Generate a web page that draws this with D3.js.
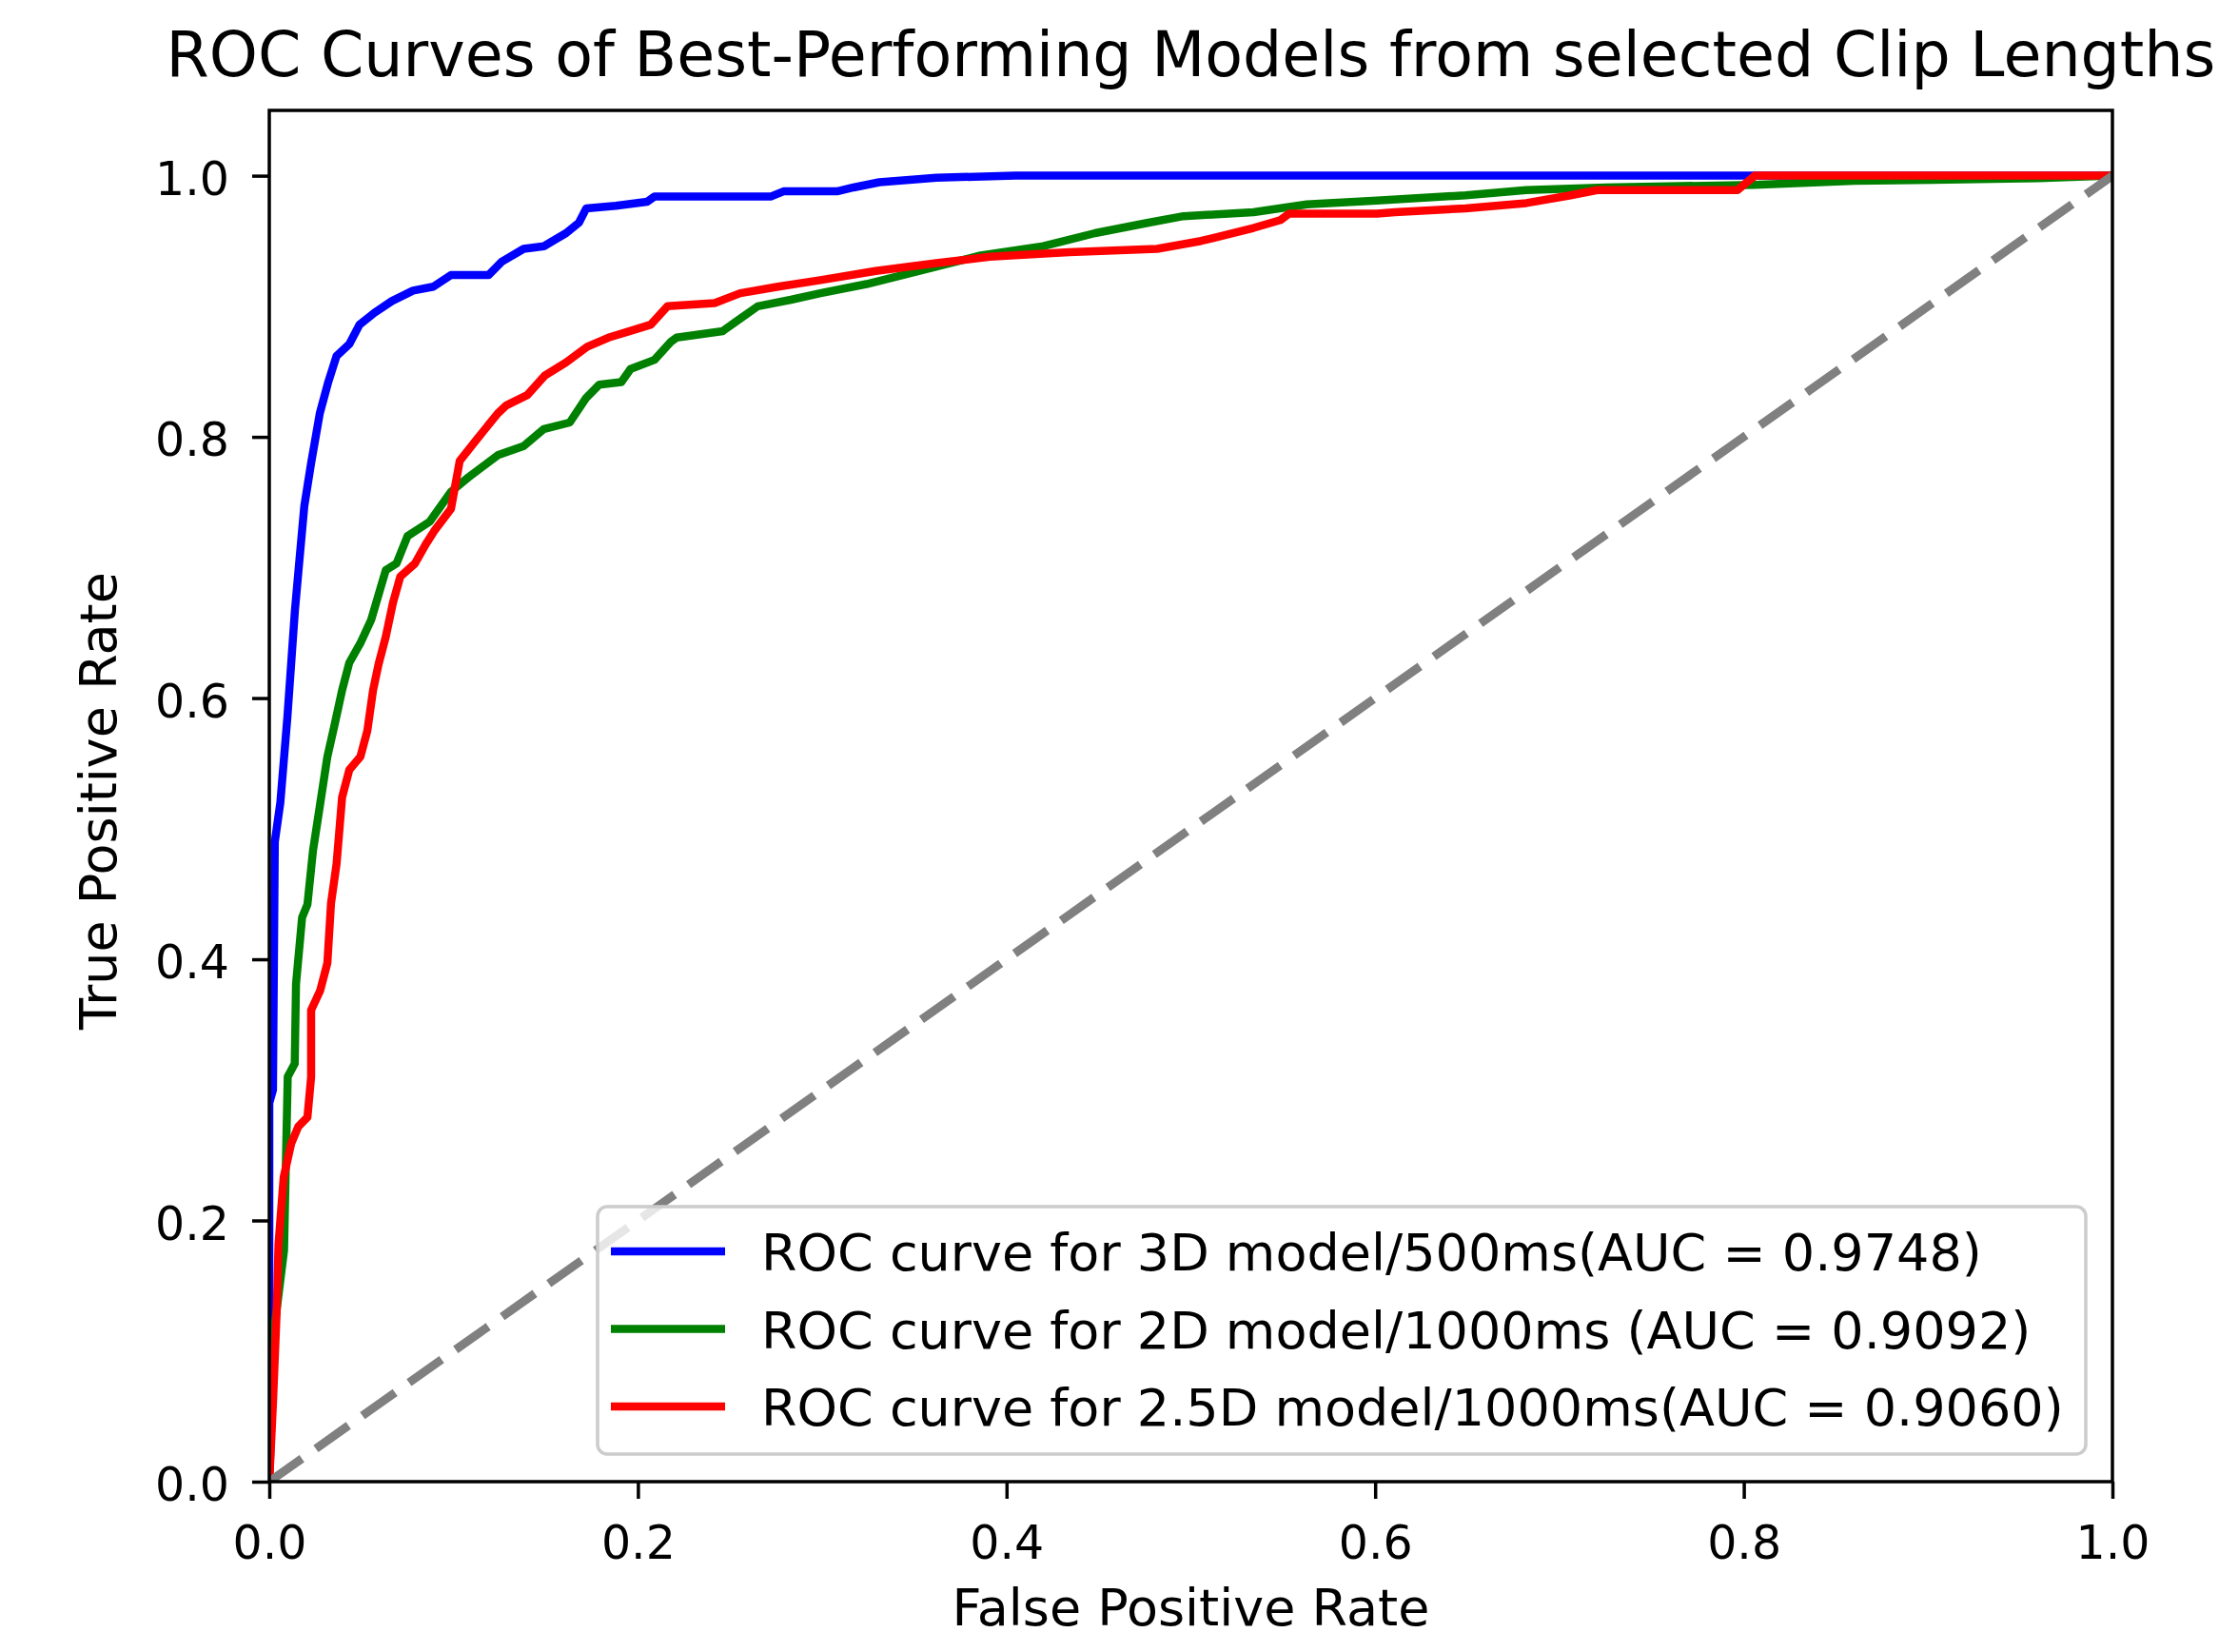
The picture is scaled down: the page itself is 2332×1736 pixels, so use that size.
<!DOCTYPE html>
<html>
  <head>
    <meta charset="utf-8">
    <title>ROC Curves</title>
    <style>
      body { margin: 0; background: #fff; }
      text { font-family: "DejaVu Sans", sans-serif; fill: #000; }
      .tick line { stroke: #000; stroke-width: 3.5px; }
      .curve { fill: none; stroke-width: 8.5px; stroke-linejoin: round; stroke-linecap: square; }
    </style>
  </head>
  <body>
    <div id="chart"></div>
    <script src="https://d3js.org/d3.v7.min.js"></script>
    <script>
      // values
      var fpr3D = [0, 0, 0.002, 0.003, 0.006, 0.0098, 0.0139, 0.0158, 0.019, 0.0227, 0.0274, 0.032, 0.0365,
        0.0434, 0.049, 0.057, 0.0665, 0.078, 0.089, 0.0986, 0.119, 0.126, 0.138, 0.149, 0.161, 0.168, 0.172,
        0.188, 0.205, 0.209, 0.272, 0.279, 0.308, 0.317, 0.331, 0.362, 0.405, 0.806, 1.0];
      var tpr3D = [0, 0.29, 0.30, 0.49, 0.52, 0.585, 0.667, 0.697, 0.747, 0.78, 0.818, 0.842, 0.862,
        0.871, 0.886, 0.895, 0.904, 0.912, 0.915, 0.924, 0.924, 0.934, 0.944, 0.946, 0.956, 0.964, 0.975,
        0.977, 0.980, 0.984, 0.984, 0.988, 0.988, 0.991, 0.995, 0.9985, 1.0, 1.0, 1.0];

      var fpr2D = [0, 0.003, 0.008, 0.01, 0.0138, 0.0145, 0.0178, 0.0207, 0.0237, 0.0276, 0.0315, 0.0355,
        0.0395, 0.0434, 0.0494, 0.0553, 0.0632, 0.069, 0.075, 0.087, 0.0986, 0.108, 0.124, 0.138, 0.149,
        0.163, 0.172, 0.179, 0.191, 0.196, 0.209, 0.218, 0.221, 0.246, 0.253, 0.265, 0.283, 0.299, 0.324,
        0.386, 0.42, 0.448, 0.477, 0.496, 0.534, 0.563, 0.601, 0.649, 0.682, 0.725, 0.806, 0.86, 0.96, 1.0];
      var tpr2D = [0, 0.12, 0.177, 0.31, 0.32, 0.381, 0.432, 0.442, 0.483, 0.519, 0.555, 0.58,
        0.606, 0.627, 0.642, 0.66, 0.698, 0.703, 0.724, 0.735, 0.758, 0.769, 0.786, 0.793, 0.806,
        0.811, 0.83, 0.84, 0.842, 0.852, 0.859, 0.873, 0.876, 0.881, 0.888, 0.9, 0.905, 0.91, 0.917,
        0.939, 0.946, 0.956, 0.964, 0.969, 0.972, 0.978, 0.981, 0.985, 0.989, 0.991, 0.993, 0.996, 0.998, 1.0];

      var fpr25D = [0, 0.002, 0.004, 0.005, 0.0078, 0.0119, 0.0158, 0.0207, 0.0227, 0.0227, 0.0276, 0.0315,
        0.0335, 0.0365, 0.0395, 0.0434, 0.0494, 0.0532, 0.0563, 0.0593, 0.0632, 0.0671, 0.0711, 0.079, 0.085,
        0.0895, 0.0986, 0.1033, 0.1125, 0.124, 0.1285, 0.14, 0.1495, 0.161, 0.1725, 0.184, 0.1957, 0.207,
        0.216, 0.2416, 0.2555, 0.276, 0.299, 0.329, 0.362, 0.391, 0.434, 0.4817, 0.5055, 0.534, 0.5486,
        0.5534, 0.601, 0.6107, 0.649, 0.682, 0.706, 0.7204, 0.7966, 0.806, 1.0];
      var tpr25D = [0, 0.06, 0.13, 0.182, 0.233, 0.259, 0.272, 0.279, 0.31, 0.361, 0.376, 0.397,
        0.443, 0.473, 0.524, 0.545, 0.555, 0.575, 0.606, 0.626, 0.647, 0.673, 0.693, 0.703, 0.718,
        0.728, 0.745, 0.7815, 0.798, 0.818, 0.824, 0.832, 0.847, 0.857, 0.869, 0.876, 0.881, 0.886,
        0.9, 0.9025, 0.91, 0.915, 0.92, 0.927, 0.933, 0.938, 0.9415, 0.944, 0.95, 0.96, 0.966,
        0.971, 0.971, 0.972, 0.975, 0.979, 0.985, 0.989, 0.989, 1.0, 1.0];

      var modelLabels = [
        "ROC curve for 3D model/500ms(AUC = 0.9748)",
        "ROC curve for 2D model/1000ms (AUC = 0.9092)",
        "ROC curve for 2.5D model/1000ms(AUC = 0.9060)"
      ];
      var modelColors = ["#0000ff", "#008000", "#ff0000"];
      var xTicks = [0, 0.2, 0.4, 0.6, 0.8, 1.0];
      var yTicks = [0, 0.2, 0.4, 0.6, 0.8, 1.0];

      var curves = [
        { fpr: fpr3D, tpr: tpr3D },
        { fpr: fpr2D, tpr: tpr2D },
        { fpr: fpr25D, tpr: tpr25D }
      ];

      var W = 2332, H = 1736;
      var margin = { top: 116, right: 112, bottom: 179, left: 283 };
      var width = W - margin.left - margin.right;
      var height = H - margin.top - margin.bottom;

      var svg = d3.select("#chart").append("svg")
        .attr("width", W)
        .attr("height", H);

      var g = svg.append("g")
        .attr("transform", "translate(" + margin.left + "," + margin.top + ")");

      var x = d3.scaleLinear().domain([0, 1]).range([0, width]);
      var y = d3.scaleLinear().domain([0, 1.05]).range([height, 0]);

      g.append("clipPath").attr("id", "plotclip")
        .append("rect").attr("width", width).attr("height", height);

      // axes
      var xAxis = g.append("g")
        .attr("transform", "translate(0," + height + ")")
        .call(d3.axisBottom(x).tickValues(xTicks).tickFormat(d3.format(".1f"))
          .tickSize(18).tickSizeOuter(0).tickPadding(28));
      var yAxis = g.append("g")
        .call(d3.axisLeft(y).tickValues(yTicks).tickFormat(d3.format(".1f"))
          .tickSize(18).tickSizeOuter(0).tickPadding(24));
      [xAxis, yAxis].forEach(function (a) {
        a.select(".domain").remove();
        a.selectAll("text").style("font-size", "49px").style("font-family", "DejaVu Sans");
      });
      yAxis.selectAll("text").attr("dy", "0.4em");

      var line = d3.line()
        .x(function (d) { return x(d[0]); })
        .y(function (d) { return y(d[1]); });

      var plot = g.append("g").attr("clip-path", "url(#plotclip)");

      curves.forEach(function (c, i) {
        var pts = c.fpr.map(function (f, j) { return [f, c.tpr[j]]; });
        plot.append("path")
          .datum(pts)
          .attr("class", "curve")
          .attr("stroke", modelColors[i])
          .attr("d", line);
      });

      // chance line
      plot.append("path")
        .datum([[0, 0], [1, 1]])
        .attr("fill", "none")
        .attr("stroke", "#808080")
        .attr("stroke-width", 9)
        .attr("stroke-dasharray", "42,18")
        .attr("d", line);

      // frame
      g.append("rect")
        .attr("width", width).attr("height", height)
        .attr("fill", "none").attr("stroke", "#000").attr("stroke-width", 3.5);

      // legend
      var leg = g.append("g").attr("transform", "translate(" + (628 - margin.left) + "," + (1268 - margin.top) + ")");
      leg.append("rect")
        .attr("width", 1564).attr("height", 260)
        .attr("rx", 10).attr("ry", 10)
        .attr("fill", "#fff").attr("fill-opacity", 0.8)
        .attr("stroke", "#cccccc").attr("stroke-width", 3.5);
      modelLabels.forEach(function (lab, i) {
        var ry = 47 + i * 81.5;
        leg.append("line")
          .attr("x1", 14).attr("x2", 134)
          .attr("y1", ry).attr("y2", ry)
          .attr("stroke", modelColors[i]).attr("stroke-width", 8.5);
        leg.append("text")
          .attr("x", 172).attr("y", ry + 20)
          .style("font-size", "54px")
          .text(lab);
      });

      // labels
      svg.append("text")
        .attr("x", margin.left + width / 2).attr("y", 80)
        .attr("text-anchor", "middle")
        .style("font-size", "65px")
        .text("ROC Curves of Best-Performing Models from selected Clip Lengths");

      svg.append("text")
        .attr("x", margin.left + width / 2).attr("y", 1708)
        .attr("text-anchor", "middle")
        .style("font-size", "54px")
        .text("False Positive Rate");

      svg.append("text")
        .attr("transform", "translate(122," + (margin.top + height / 2 + 5) + ") rotate(-90)")
        .attr("text-anchor", "middle")
        .style("font-size", "54px")
        .text("True Positive Rate");
    </script>
  </body>
</html>
